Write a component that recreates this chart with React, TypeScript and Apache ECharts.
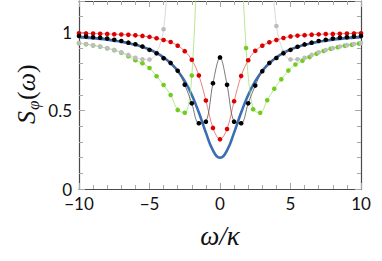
import React, { useEffect, useRef } from "react";
import * as echarts from "echarts";

// frequency grid (omega / kappa)
const omega = [-10, -9.5, -9, -8.5, -8, -7.5, -7, -6.5, -6, -5.5, -5, -4.5, -4, -3.5, -3, -2.5, -2, -1.5, -1, -0.5, 0, 0.5, 1, 1.5, 2, 2.5, 3, 3.5, 4, 4.5, 5, 5.5, 6, 6.5, 7, 7.5, 8, 8.5, 9, 9.5, 10];

// thick blue curve
const blueCurve = [0.969, 0.966, 0.962, 0.958, 0.953, 0.947, 0.94, 0.931, 0.92, 0.906, 0.89, 0.868, 0.84, 0.803, 0.754, 0.688, 0.6, 0.488, 0.36, 0.247, 0.2, 0.247, 0.36, 0.488, 0.6, 0.688, 0.754, 0.803, 0.84, 0.868, 0.89, 0.906, 0.92, 0.931, 0.94, 0.947, 0.953, 0.958, 0.962, 0.966, 0.969];

// red dotted series
const redSeries = [0.994, 0.993, 0.992, 0.991, 0.99, 0.988, 0.986, 0.984, 0.981, 0.977, 0.971, 0.962, 0.951, 0.938, 0.915, 0.88, 0.825, 0.725, 0.565, 0.39, 0.317, 0.383, 0.56, 0.722, 0.822, 0.882, 0.915, 0.936, 0.951, 0.964, 0.974, 0.979, 0.982, 0.985, 0.987, 0.989, 0.99, 0.991, 0.992, 0.993, 0.994];

// black dotted series
const blackSeries = [0.977, 0.973, 0.969, 0.966, 0.96, 0.952, 0.945, 0.934, 0.924, 0.909, 0.888, 0.866, 0.834, 0.805, 0.755, 0.666, 0.547, 0.42, 0.43, 0.675, 0.84, 0.665, 0.43, 0.42, 0.547, 0.66, 0.752, 0.805, 0.836, 0.866, 0.888, 0.908, 0.923, 0.934, 0.945, 0.952, 0.96, 0.966, 0.969, 0.973, 0.977];

// gray dotted series (diverges off the top near |omega| ~ 3.8)
const graySeries = [0.932, 0.925, 0.918, 0.909, 0.899, 0.887, 0.873, 0.856, 0.838, 0.828, 0.826, 0.868, 1.02, 1.6, null, null, null, null, null, null, null, null, null, null, null, null, null, 1.6, 1.04, 0.875, 0.827, 0.828, 0.838, 0.856, 0.873, 0.887, 0.899, 0.909, 0.918, 0.925, 0.932];

// green dotted series (diverges off the top near |omega| ~ 1.7)
const greenOmegaLeft = [-10, -9.5, -9, -8.5, -8, -7.5, -7, -6.5, -6, -5.5, -5, -4.5, -4, -3.5, -3, -2.5, -2, -1.5];
const greenLeft = [0.93, 0.924, 0.916, 0.908, 0.898, 0.886, 0.87, 0.848, 0.822, 0.803, 0.772, 0.72, 0.664, 0.6, 0.505, 0.487, 0.724, 1.76];
const greenOmegaRight = [1.35, 1.85, 2.35, 2.85, 3.35, 3.85, 4.35, 4.85, 5.35, 5.85, 6.35, 6.85, 7.35, 7.85, 8.35, 8.85, 9.35, 9.85];
const greenRight = [1.9, 0.9, 0.509, 0.487, 0.567, 0.64, 0.7, 0.756, 0.795, 0.818, 0.842, 0.864, 0.881, 0.895, 0.905, 0.914, 0.921, 0.928];

const xTickLabels = [-10, -5, 0, 5, 10];
const yTickLabels = [0, 0.5, 1];

const pairs = (xs: number[], ys: (number | null)[]) => xs.map((x, i) => [x, ys[i]]);

const AXIS_COLOR = "#4a4a4a";
const TICK_COLOR = "#a8a8a8";
const LABEL_FONT = "Lato";

function dotted(name: string, data: any[], dot: string, line: string) {
  return {
    name,
    type: "line",
    data,
    smooth: 0.35,
    showSymbol: true,
    symbol: "circle",
    symbolSize: 4.6,
    clip: true,
    itemStyle: { color: dot, borderWidth: 0 },
    lineStyle: { color: line, width: 0.8 },
    emphasis: { disabled: true },
  };
}

function xAxisDef(position: "bottom" | "top", labels: boolean) {
  return {
    type: "value",
    position,
    min: -10,
    max: 10,
    interval: 5,
    axisLine: { show: true, onZero: false, lineStyle: { color: AXIS_COLOR, width: 1.2 } },
    axisTick: { show: true, inside: true, length: 6, lineStyle: { color: TICK_COLOR, width: 1 } },
    minorTick: { show: true, splitNumber: 5, length: 4, lineStyle: { color: TICK_COLOR, width: 1 } },
    splitLine: { show: false },
    axisLabel: {
      show: labels,
      fontSize: 17,
      lineHeight: 14,
      fontFamily: LABEL_FONT,
      color: "#111",
      margin: 7,
      formatter: (v: number) => (xTickLabels.includes(v) ? String(v).replace("-", "\u2212") : ""),
    },
  };
}

function yAxisDef(position: "left" | "right", labels: boolean) {
  return {
    type: "value",
    position,
    min: 0,
    max: 1.2,
    interval: 0.5,
    axisLine: { show: true, onZero: false, lineStyle: { color: AXIS_COLOR, width: 1.2 } },
    axisTick: { show: true, inside: true, length: 6, lineStyle: { color: TICK_COLOR, width: 1 } },
    minorTick: { show: true, splitNumber: 5, length: 4, lineStyle: { color: TICK_COLOR, width: 1 } },
    splitLine: { show: false },
    axisLabel: {
      show: labels,
      fontSize: 17,
      lineHeight: 12,
      fontFamily: LABEL_FONT,
      color: "#111",
      margin: 7,
      formatter: (v: number) => (yTickLabels.includes(v) ? String(v) : ""),
    },
  };
}

export default function App() {
  const ref = useRef<HTMLDivElement>(null);
  useEffect(() => {
    if (!ref.current) return;
    const chart = echarts.init(ref.current, undefined, { renderer: "svg" });
    const serif = '"Liberation Serif", "DejaVu Serif", serif';
    chart.setOption({
      animation: false,
      grid: { left: 79, right: 21, top: 1, bottom: 72, containLabel: false },
      xAxis: [xAxisDef("bottom", true), xAxisDef("top", false)],
      yAxis: [yAxisDef("left", true), yAxisDef("right", false)],
      series: [
        {
          name: "blue",
          type: "line",
          data: pairs(omega, blueCurve),
          smooth: 0.5,
          showSymbol: false,
          symbol: "none",
          lineStyle: { color: "#3b6eb2", width: 2.6 },
          emphasis: { disabled: true },
        },
        dotted("greenL", pairs(greenOmegaLeft, greenLeft), "#72cc1e", "#a6e07a"),
        dotted("greenR", pairs(greenOmegaRight, greenRight), "#72cc1e", "#a6e07a"),
        dotted("gray", pairs(omega, graySeries), "#bdbdbd", "#cfcfcf"),
        dotted("red", pairs(omega, redSeries), "#dd0000", "#e66060"),
        dotted("black", pairs(omega, blackSeries), "#000000", "#555555"),
      ],
      graphic: [
        {
          type: "text",
          x: 220,
          y: 236,
          style: {
            text: "\u03c9/\u03ba",
            font: `italic 27px ${serif}`,
            fill: "#111",
            align: "center",
            verticalAlign: "middle",
          },
        },
        {
          type: "group",
          x: 26,
          y: 95,
          rotation: Math.PI / 2,
          children: [
            {
              type: "text",
              x: -29,
              y: 0,
              style: { text: "S", font: `italic 26px ${serif}`, fill: "#111", align: "left", verticalAlign: "middle" },
            },
            {
              type: "text",
              x: -15,
              y: 7,
              style: { text: "\u03c6", font: `italic 17px ${serif}`, fill: "#111", align: "left", verticalAlign: "middle" },
            },
            {
              type: "text",
              x: -5,
              y: 0,
              style: {
                text: "{p|(}{w|\u03c9}{p|)}",
                rich: {
                  p: { font: `26px ${serif}`, fill: "#111" },
                  w: { font: `italic 26px ${serif}`, fill: "#111" },
                },
                align: "left",
                verticalAlign: "middle",
              },
            },
          ],
        },
      ],
    });
    return () => chart.dispose();
  }, []);
  return (
    <div
      ref={ref}
      style={{ position: "fixed", left: 0, top: 0, width: 382, height: 261, background: "#fff" }}
    />
  );
}
